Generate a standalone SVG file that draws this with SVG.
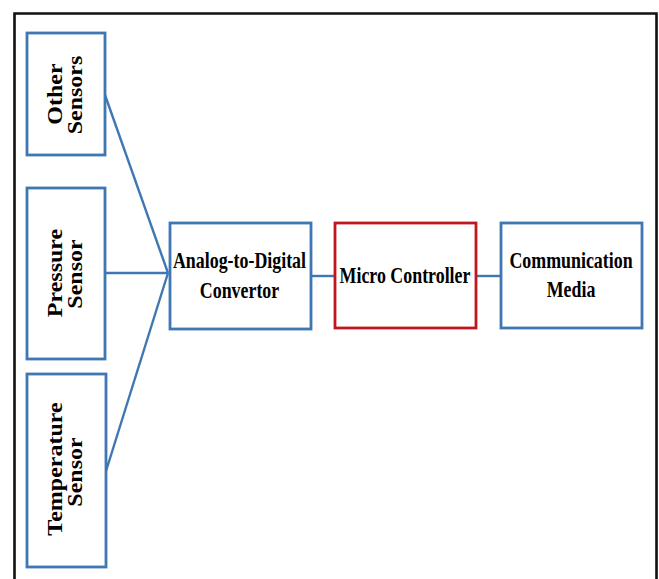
<svg xmlns="http://www.w3.org/2000/svg" width="659" height="579" viewBox="0 0 659 579">
<style>
.box{fill:#fff;stroke:#3f77b3;stroke-width:2.8}
.red{stroke:#c0171f}
.con{stroke:#3f77b3;stroke-width:2.4;fill:none}
text{font-family:"Liberation Serif","Times New Roman",serif;font-weight:bold;fill:#000;text-anchor:middle}
.h{font-size:22.5px}
.v{font-size:24px}
</style>
<rect width="659" height="579" fill="#fff"/>
<path d="M14.5,579 V13.5 H656.5 V579" fill="none" stroke="#111" stroke-width="2.6"/>
<g id="connectors">
<line class="con" x1="105" y1="95" x2="168" y2="273"/>
<line class="con" x1="105" y1="273" x2="168" y2="273"/>
<line class="con" x1="106" y1="471" x2="168" y2="273"/>
<line class="con" x1="311" y1="276" x2="335" y2="276"/>
<line class="con" x1="476" y1="276" x2="501" y2="276"/>
</g>
<g id="other">
<rect class="box" x="27" y="33" width="78" height="122"/>
<text class="v" transform="translate(62,94) scale(0.85,1) rotate(-90)">Other</text>
<text class="v" transform="translate(82,95) scale(0.85,1) rotate(-90)">Sensors</text>
</g>
<g id="pressure">
<rect class="box" x="27" y="188" width="78" height="171"/>
<text class="v" transform="translate(62,273) scale(0.85,1) rotate(-90)">Pressure</text>
<text class="v" transform="translate(82,274) scale(0.85,1) rotate(-90)">Sensor</text>
</g>
<g id="temperature">
<rect class="box" x="27" y="374" width="79" height="193"/>
<text class="v" transform="translate(62,469) scale(0.85,1) rotate(-90)">Temperature</text>
<text class="v" transform="translate(82,472) scale(0.85,1) rotate(-90)">Sensor</text>
</g>
<g id="adc">
<rect class="box" x="170" y="223" width="141" height="106"/>
<text class="h" transform="translate(239.5,268) scale(0.795,1)">Analog-to-Digital</text>
<text class="h" transform="translate(239.5,298) scale(0.795,1)">Convertor</text>
</g>
<g id="mc">
<rect class="box red" x="335" y="223" width="141" height="105"/>
<text class="h" transform="translate(405,283) scale(0.795,1)">Micro Controller</text>
</g>
<g id="comm">
<rect class="box" x="501" y="223" width="141" height="105"/>
<text class="h" transform="translate(571,268) scale(0.795,1)">Communication</text>
<text class="h" transform="translate(571,297) scale(0.795,1)">Media</text>
</g>
</svg>
